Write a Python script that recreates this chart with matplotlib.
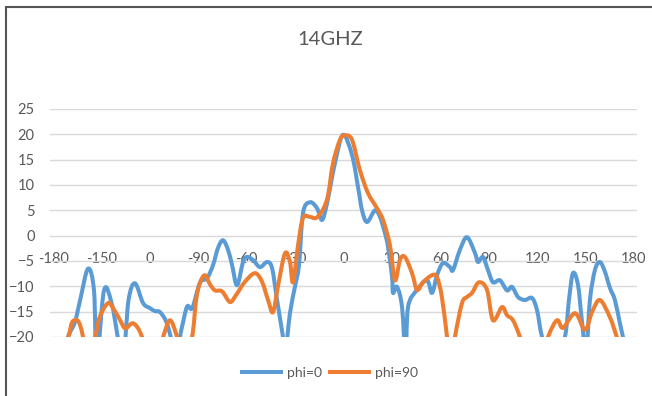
import numpy as np
import matplotlib
matplotlib.use('Agg')
import matplotlib.pyplot as plt
from matplotlib.path import Path
from matplotlib.patches import PathPatch, Rectangle
from matplotlib.lines import Line2D

plt.rcParams['font.family'] = ['Lato', 'DejaVu Sans']

# Data (angle in deg, gain in dB); values below -20 are clipped
phi0_deg = [-180, -170.8, -166.5, -163.3, -158.4, -154.7, -153, -148.5, -143.5, -137, -133.3,
            -129.3, -124.3, -120, -116.9, -113.8, -109.5, -104, -100.5, -97, -93.8, -89, -84.6,
            -80.9, -77.8, -74.7, -71.6, -69.1, -66, -62.3, -59.8, -56.1, -51.8, -47.4, -44.3,
            -41.2, -37.5, -36, -33.2, -30.1, -27.6, -25.1, -20.8, -16.4, -13.3, -10.2, -5.3,
            -0.3, 5.3, 9, 11.5, 14.6, 19.5, 22.6, 25.7, 27.6, 30.1, 30.7, 33.2, 36.3, 38.5, 40,
            45.6, 51.8, 54.9, 58, 61.7, 66, 67.9, 72.2, 76.6, 81.5, 83.4, 86.5, 89.6, 92.7, 97,
            101.4, 104.5, 108.2, 112.5, 116.9, 120, 123.1, 130, 137.3, 139.8, 142.3, 145.4,
            147.8, 150.5, 152.8, 155.9, 159, 162.1, 165.2, 168.3, 171.4, 173.3, 180]
phi0_db = [-28, -20, -17, -12.7, -6.5, -10.9, -25, -10.8, -13.7, -24, -12.7,
           -9.4, -13.3, -14.3, -14.9, -15.1, -17.3, -23, -18.5, -14, -14.3, -9.3, -8.4,
           -5.8, -2.4, -0.9, -2.8, -5.8, -9.8, -5.2, -4.2, -4.8, -6.2, -5.2, -6.4,
           -12.7, -20, -23, -15.3, -10.1, -5.8, 4.5, 6.6, 5.4, 3.1, 6.4, 14.3,
           19.9, 15.9, 9.6, 5.0, 2.7, 5.0, 3.7, 0.5, -2.2, -8.1, -11.3, -10.1, -14.1, -24, -14.1,
           -10.7, -8.8, -11.3, -7.8, -5.4, -6.2, -6.8, -2.8, -0.3, -3.4, -5.2, -4.2, -6.8, -9.2, -8.8,
           -10.8, -10.1, -12.1, -12.7, -12.3, -14.7, -20, -28, -20, -12.7, -7.4, -9.7,
           -16.7, -23, -12.7, -6.8, -5.2, -7.1, -10.3, -12.7, -17.3, -20, -30]

phi90_deg = [-180, -170.8, -168.3, -165.2, -163.3, -161.5, -158, -154, -151, -146, -142.9,
             -138.5, -135.4, -131.1, -128, -124.9, -118, -111.9, -107.6, -103.2, -99, -93.9,
             -91.4, -89, -85.9, -82.8, -79.7, -75.3, -70.4, -66.6, -61.1, -54.9, -50.5, -46.8,
             -43.7, -40.6, -36.3, -33.2, -31.3, -28.2, -25.1, -20.8, -17, -12.7, -9.6, -6.5,
             -2.2, 0.9, 5.3, 10.2, 15.2, 20.8, 24.5, 28.8, 31.9, 35, 38.1, 42.5, 45.6, 49.3,
             54.9, 58, 61, 64.2, 66.5, 69.1, 73.5, 76.6, 79.7, 84, 89, 92.7, 98.3, 101.4, 105.1,
             109.4, 118, 126.8, 132.4, 136.1, 143.6, 149.8, 154.1, 159, 165.2, 169.5, 180]
phi90_db = [-28, -20, -17.1, -16.7, -17.7, -20, -25, -20, -15.9, -13.3, -14.3,
            -16.7, -18.3, -17.3, -18, -20, -26, -20, -16.7, -20, -25, -20,
            -12.7, -9.3, -7.8, -9.6, -10.8, -11, -13.1, -11.7, -9.1, -7.4, -9.1, -12.7,
            -15.1, -9.9, -3.5, -5.2, -9.2, -1.9, 3.5, 3.7, 3.5, 5.2, 8.0, 14.3,
            18.9, 19.8, 18.9, 12.9, 8.4, 5.4, 3.1, -1.9, -8.8, -4.8, -4.2, -7.4, -10.7, -9.2,
            -7.8, -8.2, -12.1, -20, -26, -20, -13.3, -12.1, -11.3, -9.2, -10.7, -16.7, -14.1, -15.7, -16.7,
            -20, -28, -20, -16.7, -18.2, -15.3, -18.6, -15.1, -12.7, -16.1, -20, -30]

x_ticks = [-180, -150, -120, -90, -60, -30, 0, 30, 60, 90, 120, 150, 180]
x_labels = ['-180', '-150', '0', '-90', '-60', '-30', '0', '30', '60', '90', '120', '150', '180']
y_ticks = [-20, -15, -10, -5, 0, 5, 10, 15, 20, 25]

blue = '#5b9bd5'
orange = '#ed7d31'
txt = '#595959'


def smooth_path(xs, ys):
    # Catmull-Rom through the points, written as cubic Bezier segments (Excel-style smoothing)
    p = np.column_stack([xs, ys]).astype(float)
    verts = [p[0]]
    codes = [Path.MOVETO]
    n = len(p)
    for i in range(n - 1):
        p0 = p[i - 1] if i > 0 else p[i]
        p3 = p[i + 2] if i + 2 < n else p[i + 1]
        c1 = p[i] + (p[i + 1] - p0) / 6
        c2 = p[i + 1] - (p3 - p[i]) / 6
        verts += [c1, c2, p[i + 1]]
        codes += [Path.CURVE4] * 3
    return Path(verts, codes)


fig = plt.figure(figsize=(6.52, 3.96), dpi=100)
ax = fig.add_axes([50 / 652, 1 - 337 / 396, 587 / 652, 228 / 396])

for xs, ys, c in [(phi0_deg, phi0_db, blue), (phi90_deg, phi90_db, orange)]:
    ax.add_patch(PathPatch(smooth_path(xs, ys), facecolor='none', edgecolor=c,
                           lw=2.9, capstyle='round', joinstyle='round', zorder=3))

ax.set_xlim(-182, 182)
ax.set_ylim(-20, 25)
ax.set_yticks(y_ticks)
ax.set_xticks(x_ticks)
ax.set_xticklabels(x_labels)
ax.grid(axis='y', color='#d9d9d9', lw=1)
ax.set_axisbelow(True)
for s in ax.spines.values():
    s.set_visible(False)
ax.spines['bottom'].set_position(('data', 0))
ax.tick_params(axis='both', length=0, labelsize=10.5, labelcolor=txt)
ax.tick_params(axis='x', pad=12)
ax.tick_params(axis='y', pad=11)

fig.text(0.506, 0.899, '14GHZ', ha='center', va='center', fontsize=14.5, color=txt)

handles = [Line2D([], [], color=blue, lw=2.9), Line2D([], [], color=orange, lw=2.9)]
fig.legend(handles, ['phi=0', 'phi=90'], loc='center', bbox_to_anchor=(0.506, 0.058),
           ncol=2, frameon=False, fontsize=10, labelcolor=txt, handlelength=2.8,
           columnspacing=0.6, handletextpad=0.4)

# chart border
fig.add_artist(Rectangle((6 / 652, -0.1), 1.2, 1 - 7 / 396 + 0.1, transform=fig.transFigure,
                         fill=False, edgecolor='#555555', lw=1.5))

fig.savefig('out.png', dpi=100)
